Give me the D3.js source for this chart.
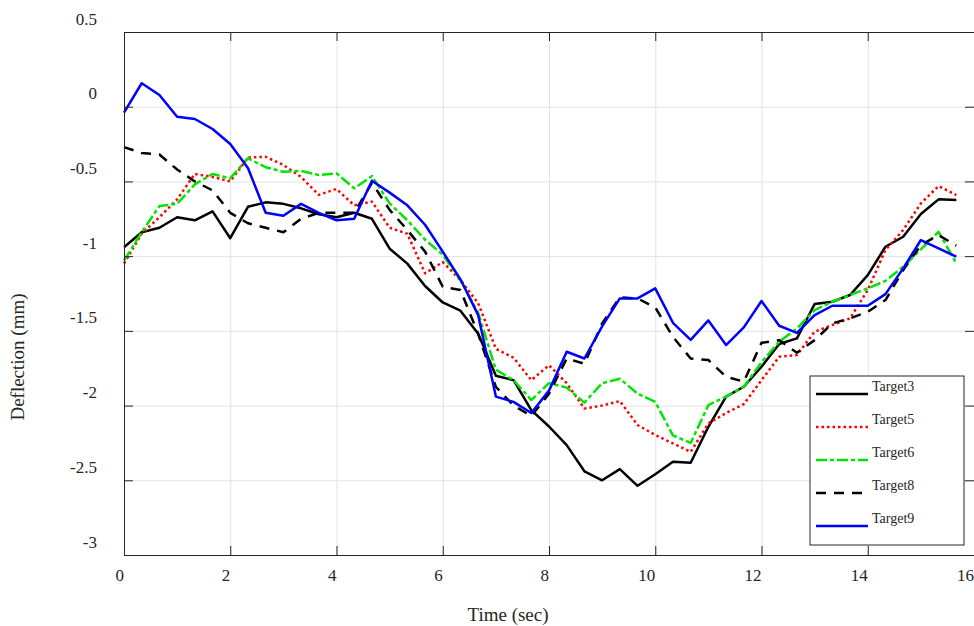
<html>
<head>
<meta charset="utf-8">
<style>
  body { margin: 0; background: #fff; }
  text { font-family: "Liberation Serif", "Times New Roman", serif; fill: #262626; }
</style>
</head>
<body>
<svg width="974" height="626"></svg>

<script src="https://cdn.jsdelivr.net/npm/d3@7"></script>
<script type="text/javascript">
// sample times (sec), one reading every 1/3 s
const time = [0, 0.333, 0.667, 1, 1.333, 1.667, 2, 2.333, 2.667, 3, 3.333, 3.667,
  4, 4.333, 4.667, 5, 5.333, 5.667, 6, 6.333, 6.667, 7, 7.333, 7.667,
  8, 8.333, 8.667, 9, 9.333, 9.667, 10, 10.333, 10.667, 11, 11.333, 11.667,
  12, 12.333, 12.667, 13, 13.333, 13.667, 14, 14.333, 14.667, 15, 15.333, 15.667];

const target3 = [-0.94, -0.84, -0.81, -0.74, -0.76, -0.70, -0.88, -0.67, -0.64, -0.65, -0.68, -0.72,
  -0.74, -0.71, -0.75, -0.95, -1.05, -1.20, -1.31, -1.365, -1.52, -1.80, -1.83, -2.03,
  -2.14, -2.265, -2.44, -2.50, -2.425, -2.537, -2.46, -2.376, -2.383, -2.142, -1.94, -1.874,
  -1.74, -1.588, -1.55, -1.32, -1.305, -1.26, -1.127, -0.937, -0.87, -0.718, -0.62, -0.625];

const target5 = [-1.05, -0.85, -0.74, -0.62, -0.45, -0.47, -0.50, -0.34, -0.335, -0.39, -0.47, -0.59,
  -0.55, -0.66, -0.635, -0.81, -0.85, -1.115, -1.04, -1.16, -1.315, -1.62, -1.68, -1.83,
  -1.73, -1.85, -2.02, -2.0, -1.97, -2.13, -2.197, -2.253, -2.31, -2.12, -2.05, -1.99,
  -1.83, -1.673, -1.662, -1.506, -1.461, -1.416, -1.227, -0.959, -0.825, -0.647, -0.531, -0.591];

const target6 = [-1.03, -0.84, -0.665, -0.65, -0.52, -0.45, -0.48, -0.345, -0.405, -0.435, -0.43, -0.457,
  -0.446, -0.546, -0.464, -0.647, -0.76, -0.89, -0.99, -1.16, -1.38, -1.76, -1.83, -1.963,
  -1.85, -1.88, -1.98, -1.85, -1.82, -1.92, -1.975, -2.20, -2.25, -1.997, -1.94, -1.874,
  -1.71, -1.573, -1.484, -1.361, -1.305, -1.26, -1.216, -1.165, -1.071, -0.955, -0.837, -1.048];

const target8 = [-0.27, -0.31, -0.32, -0.42, -0.50, -0.56, -0.71, -0.78, -0.81, -0.84, -0.75, -0.71,
  -0.71, -0.71, -0.51, -0.69, -0.825, -0.97, -1.205, -1.227, -1.52, -1.875, -2.0, -2.07,
  -1.92, -1.685, -1.72, -1.45, -1.276, -1.283, -1.343, -1.54, -1.685, -1.695, -1.807, -1.84,
  -1.58, -1.562, -1.646, -1.562, -1.45, -1.416, -1.372, -1.294, -1.093, -0.926, -0.859, -0.93];

const target9 = [-0.04, 0.157, 0.078, -0.067, -0.082, -0.149, -0.25, -0.41, -0.71, -0.73, -0.65, -0.71,
  -0.76, -0.75, -0.495, -0.575, -0.66, -0.79, -0.97, -1.155, -1.395, -1.94, -1.975, -2.05,
  -1.90, -1.64, -1.685, -1.47, -1.283, -1.283, -1.216, -1.446, -1.56, -1.43, -1.595, -1.477,
  -1.30, -1.466, -1.513, -1.394, -1.332, -1.332, -1.332, -1.254, -1.082, -0.892, -0.948, -1.004];

const seriesNames = ["Target3", "Target5", "Target6", "Target8", "Target9"];
const xTicks = [0, 2, 4, 6, 8, 10, 12, 14, 16];
const yTicks = [0.5, 0, -0.5, -1, -1.5, -2, -2.5, -3];

// line styles in matlab order: '-', ':', '-.', '--', '-'
const styles = [
  {color: "#000000", dash: null},
  {color: "#ff0000", dash: "2.5,3"},
  {color: "#00e600", dash: "11,3,4,3"},
  {color: "#000000", dash: "10,8"},
  {color: "#0000ff", dash: null}
];

let svg = d3.select("svg");

const plotLeft = 124, plotRight = 974, plotTop = 32, plotBottom = 555;

const x = d3.scaleLinear().domain([0, 16]).range([plotLeft, plotRight]);
const y = d3.scaleLinear().domain([-3, 0.5]).range([plotBottom, plotTop]);

// grid
svg.append("g").attr("class", "grid").attr("transform", "translate(0," + plotBottom + ")")
  .call(d3.axisBottom(x).tickValues(xTicks).tickSize(-(plotBottom - plotTop)).tickFormat(""))
  .call(g => g.select(".domain").remove());
svg.append("g").attr("class", "grid").attr("transform", "translate(" + plotLeft + ",0)")
  .call(d3.axisLeft(y).tickValues(yTicks).tickSize(-(plotRight - plotLeft)).tickFormat(""))
  .call(g => g.select(".domain").remove());
svg.selectAll(".grid line").attr("stroke", "#e3e3e3");

// series
const line = d3.line().x((d, i) => x(time[i])).y(d => y(d));
const allSeries = [target3, target5, target6, target8, target9];

allSeries.forEach((s, i) => {
  svg.append("path")
    .attr("d", line(s))
    .attr("fill", "none")
    .attr("stroke", styles[i].color)
    .attr("stroke-width", 2.5)
    .attr("stroke-dasharray", styles[i].dash)
    .attr("stroke-linejoin", "round");
});

// axes, ticks pointing inwards
const tickFont = "17px";

let xAxis = svg.append("g").attr("class", "ax").attr("transform", "translate(0," + plotBottom + ")")
  .call(d3.axisBottom(x).tickValues(xTicks).tickSizeInner(-9).tickSizeOuter(0).tickPadding(14).tickFormat(d3.format("d")));
// labels sit just left of their tick, right-aligned on it
xAxis.selectAll("text").attr("font-size", tickFont).attr("text-anchor", "end").attr("dx", -0.5);

let yAxis = svg.append("g").attr("class", "ax").attr("transform", "translate(" + plotLeft + ",0)")
  .call(d3.axisLeft(y).tickValues(yTicks).tickSizeInner(-9).tickSizeOuter(0).tickPadding(27).tickFormat(d => String(d)));
yAxis.selectAll("text").attr("font-size", tickFont).attr("dy", -8);

svg.append("g").attr("class", "ax").attr("transform", "translate(0," + plotTop + ")")
  .call(d3.axisTop(x).tickValues(xTicks).tickSizeInner(-9).tickSizeOuter(0).tickFormat(""));
svg.append("g").attr("class", "ax").attr("transform", "translate(" + plotRight + ",0)")
  .call(d3.axisRight(y).tickValues(yTicks).tickSizeInner(-9).tickSizeOuter(0).tickFormat(""));

svg.selectAll(".ax .domain").attr("stroke", "#262626");
svg.selectAll(".ax .tick line").attr("stroke", "#262626");
svg.selectAll(".ax text").attr("fill", "#262626").attr("font-family", "Liberation Serif");

// axis labels
svg.append("text")
  .attr("x", 508).attr("y", 621)
  .attr("text-anchor", "middle")
  .attr("font-size", "19px")
  .text("Time (sec)");

svg.append("text")
  .attr("transform", "translate(24,357) rotate(-90)")
  .attr("text-anchor", "middle")
  .attr("font-size", "19px")
  .text("Deflection (mm)");

// legend
let legend = svg.append("g").attr("transform", "translate(810,376)");
legend.append("rect").attr("width", 154).attr("height", 169)
  .attr("fill", "#fff").attr("stroke", "#262626").attr("stroke-width", 1);

seriesNames.forEach((name, i) => {
  const ly = 18 + i * 33;
  legend.append("line")
    .attr("x1", 6).attr("x2", 58).attr("y1", ly).attr("y2", ly)
    .attr("stroke", styles[i].color)
    .attr("stroke-width", 2.5)
    .attr("stroke-dasharray", styles[i].dash);
  legend.append("text")
    .attr("x", 62).attr("y", ly - 3)
    .attr("font-size", "14px")
    .text(name);
});
</script>
</body>
</html>
